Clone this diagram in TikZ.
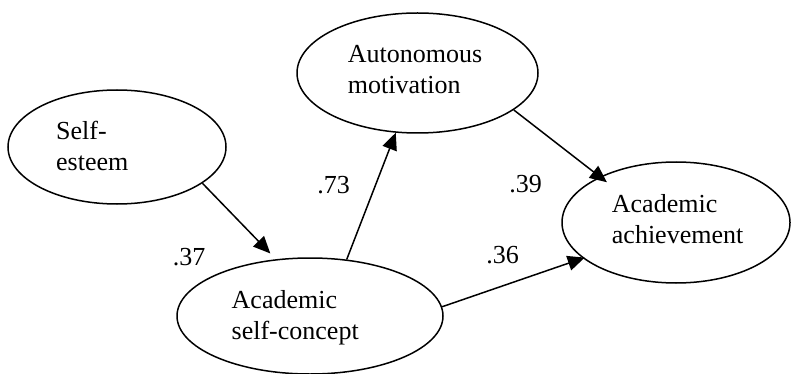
\documentclass[tikz,border=0pt]{standalone}
\usepackage{fontspec}
\setmainfont{Liberation Serif}
\usetikzlibrary{shapes.geometric,arrows.meta}
\tikzset{
  latent/.style={draw, ellipse, line width=1.5pt, inner sep=0pt},
  lbl/.style={anchor=north west, inner sep=0pt, align=left, font=\fontsize{26}{31}\selectfont},
  coef/.style={anchor=base, inner sep=0pt, font=\fontsize{26}{31}\selectfont},
  path/.style={line width=1.5pt, -{Triangle[length=17pt,width=15pt]}}
}
\begin{document}
\begin{tikzpicture}[x=1pt,y=-1pt]
\useasboundingbox (0,0) rectangle (791,374);
% ellipses
\node[latent, minimum width=218pt, minimum height=114pt] (se) at (117,147) {};
\node[latent, minimum width=266pt, minimum height=116pt] (asc) at (310,316) {};
\node[latent, minimum width=241pt, minimum height=120pt] (am) at (417.5,73) {};
\node[latent, minimum width=228pt, minimum height=121pt] (aa) at (676,222.5) {};
% texts
\node[lbl] (set) at (56,121.3) {Self-\\esteem};
\node[lbl] (asct) at (231.5,290.3) {Academic\\self-concept};
\node[lbl] (amt) at (347.7,45.6) {Autonomous\\motivation};
\node[lbl] (aat) at (611.7,194.6) {Academic\\achievement};
% paths
\draw[path, shorten >=8pt] (se.-23) -- (asc.121);
\draw[path] (asc.57) -- (am.-110);
\draw[path, shorten >=-9pt] (am.-21) -- (aa.149);
\draw[path, shorten >=-2pt] (asc.4) -- (aa.-159);
% coefficients
\node[coef] (c1) at (189,265) {.37};
\node[coef] (c2) at (333.5,193) {.73};
\node[coef] (c3) at (525.5,192) {.39};
\node[coef] (c4) at (502.5,263) {.36};
\end{tikzpicture}
\end{document}
